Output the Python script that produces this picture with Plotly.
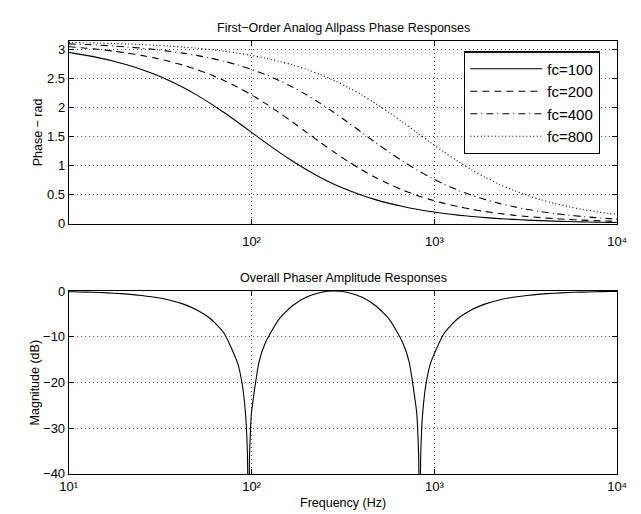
import plotly.graph_objects as go

# ---------------- data ----------------
freq_phase = [10, 10.51, 12.5, 14.87, 17.68, 21.02, 25, 29.73, 35.36, 42.04, 50, 59.46,
              70.71, 84.09, 100, 118.92, 141.42, 168.18, 200, 237.84, 282.84, 336.36, 400,
              475.68, 565.69, 672.72, 800, 951.37, 1131.4, 1345.4, 1600, 1902.7, 2262.7,
              2690.9, 3200, 3805.5, 4525.5, 5381.7, 6400, 7610.9, 9051, 10000]

phase_fc100 = [2.9423, 2.9321, 2.8929, 2.8465, 2.7917, 2.7272, 2.6516, 2.5636, 2.4619, 2.3456,
               2.2143, 2.0687, 1.9106, 1.7432, 1.5708, 1.3984, 1.2310, 1.0729, 0.9273, 0.7960,
               0.6797, 0.5780, 0.4900, 0.4144, 0.3499, 0.2951, 0.2487, 0.2095, 0.1763, 0.1484,
               0.1248, 0.1050, 0.0883, 0.0743, 0.0625, 0.0526, 0.0442, 0.0372, 0.0312, 0.0263,
               0.0221, 0.0200]
phase_fc200 = [3.0417, 3.0366, 3.0168, 2.9932, 2.9653, 2.9321, 2.8929, 2.8465, 2.7917, 2.7272,
               2.6516, 2.5636, 2.4619, 2.3456, 2.2143, 2.0687, 1.9106, 1.7432, 1.5708, 1.3984,
               1.2310, 1.0729, 0.9273, 0.7960, 0.6797, 0.5780, 0.4900, 0.4144, 0.3499, 0.2951,
               0.2487, 0.2095, 0.1763, 0.1484, 0.1248, 0.1050, 0.0883, 0.0743, 0.0625, 0.0526,
               0.0442, 0.0400]
phase_fc400 = [3.0916, 3.0890, 3.0791, 3.0673, 3.0533, 3.0366, 3.0168, 2.9932, 2.9653, 2.9321,
               2.8929, 2.8465, 2.7917, 2.7272, 2.6516, 2.5636, 2.4619, 2.3456, 2.2143, 2.0687,
               1.9106, 1.7432, 1.5708, 1.3984, 1.2310, 1.0729, 0.9273, 0.7960, 0.6797, 0.5780,
               0.4900, 0.4144, 0.3499, 0.2951, 0.2487, 0.2095, 0.1763, 0.1484, 0.1248, 0.1050,
               0.0883, 0.0800]
phase_fc800 = [3.1166, 3.1153, 3.1103, 3.1044, 3.0974, 3.0890, 3.0791, 3.0673, 3.0533, 3.0366,
               3.0168, 2.9932, 2.9653, 2.9321, 2.8929, 2.8465, 2.7917, 2.7272, 2.6516, 2.5636,
               2.4619, 2.3456, 2.2143, 2.0687, 1.9106, 1.7432, 1.5708, 1.3984, 1.2310, 1.0729,
               0.9273, 0.7960, 0.6797, 0.5780, 0.4900, 0.4144, 0.3499, 0.2951, 0.2487, 0.2095,
               0.1763, 0.1597]
series_names = ["fc=100", "fc=200", "fc=400", "fc=800"]

freq_mag = [10, 10.51, 12.5, 14.87, 17.68, 21.02, 25, 29.73, 35.36, 42.04, 50, 59.46, 70.71,
            84.09, 88, 90, 93, 95, 96, 96.5, 97.5, 99, 100, 110, 118.92, 141.42, 168.18, 200,
            237.84, 282.84, 336.36, 400, 475.68, 565.69, 672.72, 727.27, 800, 808.08, 820.51,
            829.02, 833.33, 842.11, 860.22, 888.89, 909.09, 951.37, 1131.4, 1345.4, 1600,
            1902.7, 2262.7, 2690.9, 3200, 3805.5, 4525.5, 5381.7, 6400, 7610.9, 9051, 10000]
mag_db = [-0.153, -0.169, -0.239, -0.339, -0.480, -0.681, -0.966, -1.375, -1.962, -2.815,
          -4.080, -6.021, -9.241, -15.866, -19.31, -21.76, -27.49, -35.79, -49.60, -50.16,
          -35.97, -29.12, -26.45, -15.43, -11.36, -6.154, -3.165, -1.335, -0.325, 0.0,
          -0.325, -1.335, -3.165, -6.154, -11.36, -15.43, -26.45, -29.12, -35.97, -50.16,
          -49.60, -35.79, -27.49, -21.76, -19.31, -15.866, -9.241, -6.021, -4.080, -2.815,
          -1.962, -1.375, -0.966, -0.681, -0.480, -0.339, -0.239, -0.169, -0.119, -0.098]

top_xticks = [100, 1000, 10000]
top_xticktext = ["10\u00b2", "10\u00b3", "10\u2074"]
bot_xticks = [10, 100, 1000, 10000]
bot_xticktext = ["10\u00b9", "10\u00b2", "10\u00b3", "10\u2074"]
top_yticks = [0, 0.5, 1, 1.5, 2, 2.5, 3]
top_yticktext = ["0", "0.5", "1", "1.5", "2", "2.5", "3"]
bot_yticks = [-40, -30, -20, -10, 0]
bot_yticktext = ["\u221240", "\u221230", "\u221220", "\u221210", "0"]

# ---------------- styling ----------------
FONT = "Liberation Sans, Arial, Helvetica, sans-serif"
W, H = 641, 514
dashes = ["solid", "7px,5px", "7px,4px,1px,4px", "1px,2.5px"]

fig = go.Figure()
for name, vals, dash in zip(series_names, [phase_fc100, phase_fc200, phase_fc400, phase_fc800], dashes):
    fig.add_trace(go.Scatter(x=freq_phase, y=vals, mode="lines", name=name,
                             line=dict(color="black", width=1.1, dash=dash, shape="spline", smoothing=0.8),
                             xaxis="x", yaxis="y", showlegend=True))

fig.add_trace(go.Scatter(x=freq_mag, y=mag_db, mode="lines", name="phaser",
                         line=dict(color="black", width=1.1, shape="spline", smoothing=0.6),
                         xaxis="x2", yaxis="y2", showlegend=False))

x0, x1 = 53.3 / W, 618.5 / W
common = dict(showline=True, linecolor="black", linewidth=1, mirror="ticks",
              ticks="inside", ticklen=5, tickcolor="black", tickwidth=1,
              showgrid=True, gridcolor="#555555", gridwidth=1, griddash="1px,3px",
              zeroline=False, tickfont=dict(family=FONT, size=13, color="black"))

fig.update_layout(
    width=W, height=H, paper_bgcolor="white", plot_bgcolor="white",
    margin=dict(l=0, r=0, t=0, b=0),
    xaxis=dict(type="log", range=[1, 4], domain=[x0, x1], anchor="y",
               tickvals=top_xticks, ticktext=top_xticktext, ticklabelstandoff=6, **common),
    yaxis=dict(range=[0, 3.14159], domain=[1 - 215 / H, 1 - 26.7 / H], anchor="x",
               tickvals=top_yticks, ticktext=top_yticktext, **common),
    xaxis2=dict(type="log", range=[1, 4], domain=[x0, x1], anchor="y2",
                tickvals=bot_xticks, ticktext=bot_xticktext, ticklabelstandoff=0, **common),
    yaxis2=dict(range=[-40, 0], domain=[1 - 472.7 / H, 1 - 284.3 / H], anchor="x2",
                tickvals=bot_yticks, ticktext=bot_yticktext, **common),
    showlegend=True,
    legend=dict(x=460.7 / W, y=1 - 37.3 / H, xanchor="left", yanchor="top",
                bgcolor="white", bordercolor="black", borderwidth=1.3,
                font=dict(family=FONT, size=15, color="black"),
                itemwidth=72, tracegroupgap=0),
)

ann = dict(showarrow=False, xref="paper", yref="paper", font=dict(family=FONT, size=12.5, color="black"))
fig.add_annotation(text="First\u2212Order Analog Allpass Phase Responses", x=336 / W, y=1 - 13.3 / H,
                   xanchor="center", yanchor="middle", **ann)
fig.add_annotation(text="Overall Phaser Amplitude Responses", x=336 / W, y=1 - 271 / H,
                   xanchor="center", yanchor="middle", **ann)
fig.add_annotation(text="Phase \u2212 rad", x=22 / W, y=1 - 120.5 / H, textangle=-90,
                   xanchor="center", yanchor="middle", **ann)
fig.add_annotation(text="Magnitude (dB)", x=18 / W, y=1 - 379 / H, textangle=-90,
                   xanchor="center", yanchor="middle", **ann)
fig.add_annotation(text="Frequency (Hz)", x=336 / W, y=1 - 503 / H,
                   xanchor="center", yanchor="middle", **ann)

fig.write_html("out.html")
